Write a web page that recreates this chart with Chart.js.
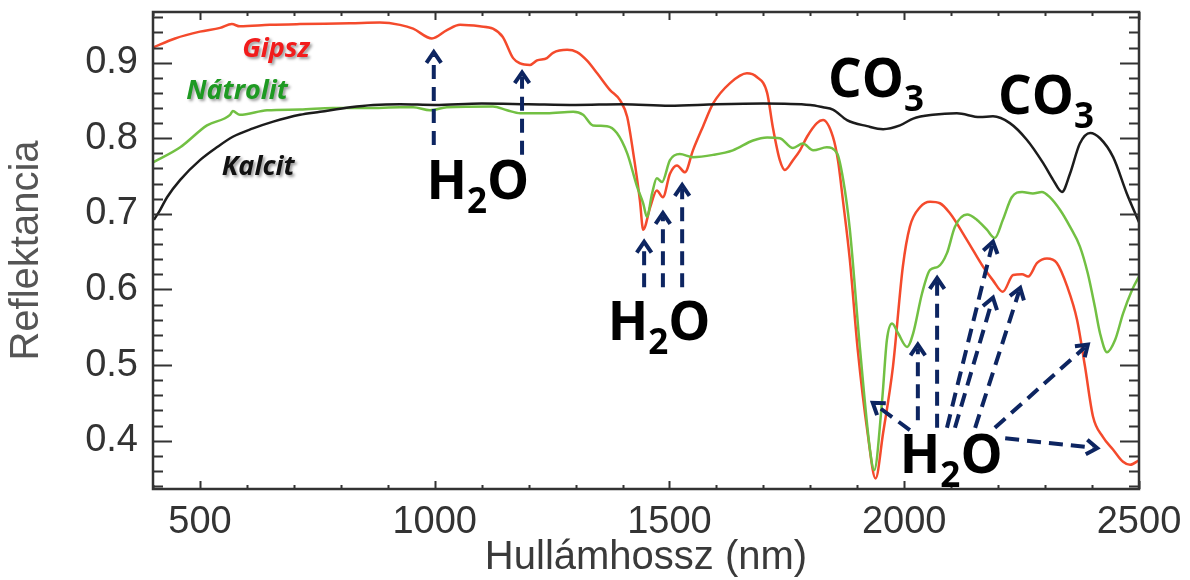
<!DOCTYPE html>
<html>
<head>
<meta charset="utf-8">
<script src="https://cdn.jsdelivr.net/npm/chart.js@4.4.1/dist/chart.umd.min.js"></script>
<style>
  html, body { margin: 0; padding: 0; background: #fff; }
</style>
</head>
<body>
<canvas id="spectra" width="1190" height="580"></canvas>
<script>
// Reflectance spectra (wavelength in nm, reflectance 0..1)
const gipszNm = [400, 447, 500, 543, 568, 585, 649, 713, 820, 883, 926, 954, 994, 1026, 1054, 1096, 1124, 1145, 1167, 1182,
  1203, 1218, 1239, 1252, 1282, 1303, 1324, 1346, 1373, 1395, 1410, 1422, 1437, 1444, 1459, 1473, 1486, 1501, 1516, 1533,
  1550, 1571, 1593, 1629, 1665, 1686, 1708, 1720, 1735, 1746, 1763, 1778, 1793, 1814, 1827, 1848, 1859, 1869, 1884, 1901,
  1922, 1939, 1955, 1976, 1997, 2012, 2034, 2055, 2076, 2097, 2134, 2168, 2189, 2210, 2232, 2251, 2264, 2283, 2304, 2325,
  2347, 2368, 2385, 2402, 2423, 2445, 2466, 2481, 2500];
const gipszRefl = [0.920, 0.932, 0.941, 0.946, 0.951, 0.948, 0.950, 0.951, 0.952, 0.953, 0.950, 0.945, 0.932, 0.943, 0.950, 0.948, 0.945, 0.934, 0.906, 0.899,
  0.897, 0.903, 0.906, 0.913, 0.917, 0.914, 0.903, 0.886, 0.864, 0.850, 0.828, 0.784, 0.718, 0.679, 0.709, 0.731, 0.722, 0.753, 0.764, 0.755,
  0.784, 0.815, 0.846, 0.873, 0.886, 0.881, 0.860, 0.815, 0.771, 0.758, 0.771, 0.784, 0.802, 0.820, 0.824, 0.802, 0.770, 0.720, 0.640, 0.520,
  0.410, 0.350, 0.410, 0.498, 0.630, 0.683, 0.709, 0.716, 0.714, 0.701, 0.665, 0.630, 0.612, 0.597, 0.619, 0.620, 0.617, 0.635, 0.641, 0.635,
  0.604, 0.560, 0.498, 0.432, 0.405, 0.388, 0.372, 0.368, 0.374];

const natrolitNm = [400, 458, 515, 564, 570, 585, 643, 713, 783, 856, 926, 954, 990, 1026, 1124, 1154, 1182, 1239, 1295, 1316,
  1337, 1367, 1388, 1410, 1431, 1444, 1452, 1463, 1473, 1484, 1501, 1522, 1550, 1593, 1635, 1678, 1708, 1735, 1763, 1784,
  1806, 1835, 1857, 1870, 1884, 1906, 1927, 1936, 1953, 1963, 1974, 1987, 2006, 2019, 2038, 2055, 2072, 2091, 2108, 2134,
  2155, 2176, 2193, 2210, 2229, 2251, 2274, 2293, 2310, 2332, 2353, 2374, 2391, 2406, 2417, 2432, 2449, 2466, 2485, 2500];
const natrolitRefl = [0.768, 0.788, 0.817, 0.831, 0.836, 0.831, 0.837, 0.838, 0.840, 0.840, 0.841, 0.841, 0.837, 0.841, 0.842, 0.837, 0.833, 0.833, 0.835, 0.831,
  0.817, 0.816, 0.807, 0.780, 0.736, 0.714, 0.696, 0.727, 0.747, 0.742, 0.771, 0.779, 0.775, 0.778, 0.784, 0.797, 0.801, 0.800, 0.787, 0.793,
  0.784, 0.788, 0.780, 0.745, 0.680, 0.520, 0.388, 0.361, 0.454, 0.533, 0.555, 0.542, 0.524, 0.542, 0.595, 0.626, 0.630, 0.648, 0.683, 0.699,
  0.692, 0.679, 0.668, 0.692, 0.722, 0.729, 0.727, 0.729, 0.722, 0.705, 0.683, 0.657, 0.621, 0.577, 0.542, 0.517, 0.533, 0.568, 0.599, 0.617];

const kalcitNm = [402, 415, 430, 458, 500, 536, 570, 613, 656, 713, 756, 820, 869, 926, 1000, 1100, 1200, 1300, 1400, 1500,
  1600, 1700, 1800, 1827, 1848, 1878, 1921, 1955, 1991, 2019, 2061, 2112, 2161, 2189, 2225, 2261, 2296, 2317, 2336, 2353,
  2374, 2396, 2417, 2445, 2474, 2500];
const kalcitRefl = [0.692, 0.705, 0.722, 0.745, 0.771, 0.788, 0.802, 0.813, 0.822, 0.831, 0.835, 0.841, 0.844, 0.845, 0.844, 0.846, 0.845, 0.844, 0.845, 0.843,
  0.845, 0.846, 0.844, 0.841, 0.838, 0.824, 0.816, 0.812, 0.817, 0.826, 0.831, 0.833, 0.828, 0.829, 0.820, 0.798, 0.767, 0.745, 0.729, 0.753,
  0.793, 0.807, 0.800, 0.775, 0.727, 0.689];

const xTicks = [500, 1000, 1500, 2000, 2500];
const yTicks = [0.4, 0.5, 0.6, 0.7, 0.8, 0.9];

// Mineral names next to the curves (centre position in nm / reflectance)
const mineralLabels = [
  { text: 'Gipsz', nm: 662, r: 0.917, color: '#f21c1c' },
  { text: 'Nátrolit', nm: 579, r: 0.862, color: '#1e9a22' },
  { text: 'Kalcit', nm: 624, r: 0.762, color: '#111111' }
];

// Absorption band labels, pieces flagged as subscript
const bandLabels = [
  { parts: [['H', false], ['2', true], ['O', false]], nm: 1092, r: 0.745 },
  { parts: [['H', false], ['2', true], ['O', false]], nm: 1478, r: 0.558 },
  { parts: [['H', false], ['2', true], ['O', false]], nm: 2100, r: 0.382 },
  { parts: [['CO', false], ['3', true]], nm: 1940, r: 0.880 },
  { parts: [['CO', false], ['3', true]], nm: 2302, r: 0.857 }
];

// Dashed pointers from the labels to the bands: [fromNm, fromR, toNm, toR]
const bandArrows = [
  [998, 0.791, 998, 0.914],
  [1186, 0.778, 1186, 0.887],
  [1446, 0.603, 1446, 0.663],
  [1486, 0.603, 1486, 0.701],
  [1527, 0.603, 1527, 0.738],
  [2012, 0.414, 1933, 0.450],
  [2029, 0.427, 2029, 0.527],
  [2070, 0.417, 2070, 0.615],
  [2091, 0.417, 2189, 0.663],
  [2108, 0.417, 2189, 0.589],
  [2151, 0.417, 2247, 0.602],
  [2193, 0.417, 2391, 0.527],
  [2215, 0.403, 2411, 0.390]
];

const pairs = (xs, ys) => xs.map((x, i) => ({ x, y: ys[i] }));

// box with inward ticks on all four sides
const frameTicks = {
  id: 'frameTicks',
  afterDatasetsDraw(chart) {
    const { ctx, chartArea: a, scales: { x, y } } = chart;
    ctx.save();
    ctx.strokeStyle = '#333';
    ctx.lineWidth = 2;
    ctx.beginPath();
    for (let v = 400; v <= 2500; v += 100) {
      const px = Math.round(x.getPixelForValue(v)) + 0.5;
      const len = v % 500 === 0 ? 8 : 4;
      ctx.moveTo(px, a.bottom); ctx.lineTo(px, a.bottom - len);
      ctx.moveTo(px, a.top); ctx.lineTo(px, a.top + len);
    }
    for (let i = 17; i <= 48; i++) {
      const py = Math.round(y.getPixelForValue(i / 50)) + 0.5;
      const len = i % 5 === 0 ? 19 : 10;
      ctx.moveTo(a.left, py); ctx.lineTo(a.left + len, py);
      ctx.moveTo(a.right, py); ctx.lineTo(a.right - len, py);
    }
    ctx.stroke();
    ctx.lineWidth = 2.5;
    ctx.strokeRect(a.left, a.top, a.right - a.left, a.bottom - a.top);
    ctx.restore();
  }
};

const annotations = {
  id: 'annotations',
  afterDraw(chart) {
    const { ctx, scales: { x, y } } = chart;
    ctx.save();

    // arrows
    ctx.strokeStyle = '#0d2561';
    ctx.lineWidth = 4;
    ctx.lineCap = 'butt';
    bandArrows.forEach(([n0, r0, n1, r1]) => {
      const x0 = x.getPixelForValue(n0), y0 = y.getPixelForValue(r0);
      const x1 = x.getPixelForValue(n1), y1 = y.getPixelForValue(r1);
      const ang = Math.atan2(y1 - y0, x1 - x0);
      const head = 13;
      ctx.setLineDash([14, 8]);
      ctx.beginPath();
      ctx.moveTo(x0, y0);
      ctx.lineTo(x1 - Math.cos(ang) * 4, y1 - Math.sin(ang) * 4);
      ctx.stroke();
      ctx.setLineDash([]);
      ctx.beginPath();
      ctx.moveTo(x1 - head * Math.cos(ang - 0.6), y1 - head * Math.sin(ang - 0.6));
      ctx.lineTo(x1, y1);
      ctx.lineTo(x1 - head * Math.cos(ang + 0.6), y1 - head * Math.sin(ang + 0.6));
      ctx.stroke();
    });

    // H2O / CO3
    const big = 53, small = 35;
    ctx.fillStyle = '#000';
    ctx.textBaseline = 'alphabetic';
    ctx.textAlign = 'left';
    bandLabels.forEach(lab => {
      const widths = lab.parts.map(([t, sub]) => {
        ctx.font = `bold ${sub ? small : big}px "Open Sans"`;
        return ctx.measureText(t).width;
      });
      const total = widths.reduce((s, w) => s + w, 0);
      let cx = x.getPixelForValue(lab.nm) - total / 2;
      const base = y.getPixelForValue(lab.r) + big * 0.357;
      lab.parts.forEach(([t, sub], i) => {
        ctx.font = `bold ${sub ? small : big}px "Open Sans"`;
        ctx.fillText(t, cx, sub ? base + 14 : base);
        cx += widths[i];
      });
    });

    // mineral names with a soft shadow
    ctx.font = 'italic bold 27px "Open Sans"';
    ctx.textAlign = 'center';
    ctx.textBaseline = 'middle';
    ctx.shadowColor = 'rgba(0,0,0,0.4)';
    ctx.shadowBlur = 3;
    ctx.shadowOffsetX = 2;
    ctx.shadowOffsetY = 2;
    mineralLabels.forEach(m => {
      ctx.fillStyle = m.color;
      ctx.fillText(m.text, x.getPixelForValue(m.nm), y.getPixelForValue(m.r));
    });
    ctx.restore();
  }
};

const lineStyle = { borderWidth: 2.5, pointRadius: 0, cubicInterpolationMode: 'monotone' };

new Chart(document.getElementById('spectra'), {
  type: 'line',
  data: {
    datasets: [
      { label: 'Kalcit', data: pairs(kalcitNm, kalcitRefl), borderColor: '#1c1c1c', ...lineStyle },
      { label: 'Nátrolit', data: pairs(natrolitNm, natrolitRefl), borderColor: '#72c043', ...lineStyle },
      { label: 'Gipsz', data: pairs(gipszNm, gipszRefl), borderColor: '#f44a2c', ...lineStyle }
    ]
  },
  options: {
    responsive: false,
    animation: false,
    devicePixelRatio: 1,
    layout: { padding: { left: 0, right: 51, top: 12, bottom: 0 } },
    plugins: { legend: { display: false }, tooltip: { enabled: false } },
    scales: {
      x: {
        type: 'linear',
        min: 400,
        max: 2500,
        afterBuildTicks: s => { s.ticks = xTicks.map(v => ({ value: v })); },
        afterFit: s => { s.height = 91; s.paddingLeft = 0; s.paddingRight = 0; },
        grid: { display: false, drawTicks: false },
        border: { display: false },
        ticks: {
          autoSkip: false, maxRotation: 0, padding: 11,
          color: '#333', font: { family: 'Liberation Sans', size: 38 },
          callback: v => String(v)
        },
        title: {
          display: true, text: 'Hullámhossz (nm)', color: '#3a3a3a',
          font: { family: 'Liberation Sans', size: 40, lineHeight: 1 },
          padding: { top: 0, bottom: 2 }
        }
      },
      y: {
        min: 0.336,
        max: 0.967,
        afterBuildTicks: s => { s.ticks = yTicks.map(v => ({ value: v })); },
        afterFit: s => { s.width = 153; s.paddingTop = 0; s.paddingBottom = 0; },
        grid: { display: false, drawTicks: false },
        border: { display: false },
        ticks: {
          padding: 15,
          color: '#333', font: { family: 'Liberation Sans', size: 38 },
          callback: v => v.toFixed(1)
        },
        title: {
          display: true, text: 'Reflektancia', color: '#555',
          font: { family: 'Liberation Sans', size: 40, lineHeight: 1 },
          padding: { top: 7, bottom: 0 }
        }
      }
    }
  },
  plugins: [frameTicks, annotations]
});
</script>
</body>
</html>
